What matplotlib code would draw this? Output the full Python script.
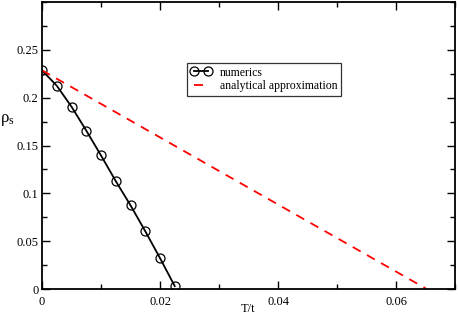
import matplotlib
matplotlib.use("Agg")
import matplotlib.pyplot as plt
from matplotlib.ticker import MultipleLocator

plt.rcParams['font.family'] = ['Liberation Serif', 'DejaVu Serif']
plt.rcParams['mathtext.fontset'] = 'custom'
plt.rcParams['mathtext.rm'] = 'Liberation Serif'
plt.rcParams['mathtext.it'] = 'Liberation Serif:italic'

T_num = [0.0, 0.0025, 0.005, 0.0075, 0.01, 0.0125, 0.015, 0.0175, 0.02, 0.0225]
rho_num = [0.2286, 0.2125, 0.1906, 0.1656, 0.1396, 0.1128, 0.0875, 0.0604, 0.0323, 0.003]
T_an = [0.0, 0.0652]
rho_an = [0.2286, 0.0]
xticks = [0, 0.02, 0.04, 0.06]
xticklabels = ["0", "0.02", "0.04", "0.06"]
yticks = [0, 0.05, 0.1, 0.15, 0.2, 0.25]
yticklabels = ["0", "0.05", "0.1", "0.15", "0.2", "0.25"]

fig = plt.figure(figsize=(4.58, 3.17), dpi=100)
ax = fig.add_axes([42/458, 28/317, 413/458, 287/317])

ax.plot(T_num, rho_num, color='black', lw=1.3, marker='o', ms=6.5,
        mfc='none', mec='black', mew=0.9, label='numerics')
ax.plot(T_an, rho_an, color='red', lw=1.3, ls=(0, (5, 4)),
        label='analytical approximation')

ax.set_xlim(0, 0.07)
ax.set_ylim(0, 0.3)
ax.set_xticks(xticks)
ax.set_xticklabels(xticklabels)
ax.set_yticks(yticks)
ax.set_yticklabels(yticklabels)
ax.xaxis.set_minor_locator(MultipleLocator(0.01))
ax.yaxis.set_minor_locator(MultipleLocator(0.025))
ax.tick_params(which='both', direction='in', top=True, right=True,
               labelsize=9, width=1.0)
ax.tick_params(which='major', length=6)
ax.tick_params(which='minor', length=3.5)
ax.tick_params(axis='x', which='major', pad=5)
ax.tick_params(axis='y', which='major', pad=2.5)
for s in ax.spines.values():
    s.set_linewidth(1.3)

ax.set_xlabel('T/t', fontsize=9)
ax.xaxis.set_label_coords(0.5, -0.05)
ax.set_ylabel(r'ρ$_{\mathrm{s}}$', fontsize=12, rotation=0)
ax.yaxis.set_label_coords(-0.083, 0.56)

leg = ax.legend(loc='upper left', bbox_to_anchor=(145/413, 1-61/287),
                fontsize=8.5, frameon=True, fancybox=False, numpoints=2,
                edgecolor='black', handlelength=1.8, borderpad=0.3,
                labelspacing=0.15, handletextpad=0.7, borderaxespad=0)
leg.get_frame().set_linewidth(0.9)

fig.savefig('out.png', dpi=100)
